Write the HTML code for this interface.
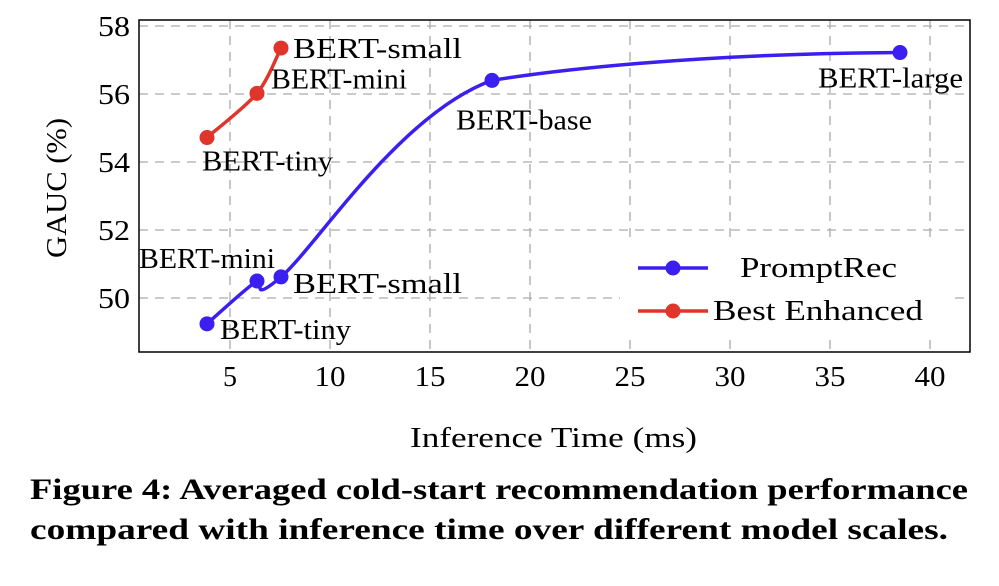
<!DOCTYPE html>
<html><head><meta charset="utf-8"><style>
body{margin:0;background:#fff;width:999px;height:581px;overflow:hidden}
svg{font-family:"Liberation Serif",serif}
</style></head><body>
<svg width="999" height="581">
<g id="grid"></g>
<rect x="139" y="20" width="831" height="332" fill="none" stroke="#000" stroke-width="1.5"/>
<g id="ticks"></g>
<g id="series"></g>
<text x="410" y="447" font-size="28" textLength="287" lengthAdjust="spacingAndGlyphs">Inference Time (ms)</text>
<text transform="translate(66,188) rotate(-90)" font-size="28" text-anchor="middle" textLength="140" lengthAdjust="spacingAndGlyphs">GAUC (%)</text>
<g>
<rect x="620" y="242" width="330" height="92" fill="#fff"/>
<line x1="638" y1="268" x2="708" y2="268" stroke="#3a1ff0" stroke-width="3.5"/>
<circle cx="673" cy="268" r="7.5" fill="#3a1ff0"/>
<text x="740" y="277" font-size="28" textLength="157" lengthAdjust="spacingAndGlyphs">PromptRec</text>
<line x1="638" y1="311" x2="708" y2="311" stroke="#e0352a" stroke-width="3.5"/>
<circle cx="673" cy="311" r="7.5" fill="#e0352a"/>
<text x="713" y="320" font-size="28" textLength="210" lengthAdjust="spacingAndGlyphs">Best Enhanced</text>
</g>
<text x="30" y="499" font-size="30" font-weight="bold" textLength="938" lengthAdjust="spacingAndGlyphs">Figure 4: Averaged cold-start recommendation performance</text>
<text x="30" y="539" font-size="30" font-weight="bold" textLength="918" lengthAdjust="spacingAndGlyphs">compared with inference time over different model scales.</text>
</svg>
<script>
const xTicks=[5,10,15,20,25,30,35,40];
const yTicks=[50,52,54,56,58];
const promptX=[3.85,6.35,7.55,18.1,38.5];
const promptY=[49.24,50.5,50.62,56.4,57.22];
const promptLabels=["BERT-tiny","BERT-mini","BERT-small","BERT-base","BERT-large"];
const bestX=[3.85,6.35,7.55];
const bestY=[54.72,56.02,57.35];
const bestLabels=["BERT-tiny","BERT-mini","BERT-small"];
const labelW={"BERT-tiny":131,"BERT-mini":136,"BERT-small":169,"BERT-base":136,"BERT-large":145};
const NS="http://www.w3.org/2000/svg";
const sx=v=>130+v*20, sy=v=>298-(v-50)*34;
function mk(t,a,p){const e=document.createElementNS(NS,t);for(const k in a)e.setAttribute(k,a[k]);p.appendChild(e);return e;}
const g=document.getElementById('grid'),tk=document.getElementById('ticks'),se=document.getElementById('series');
xTicks.forEach(v=>{
 const l=mk('line',{x1:sx(v),x2:sx(v),y1:20,y2:352,stroke:'#aaa','stroke-dasharray':'9,7','stroke-width':1.3},g);
 
 
 const t=mk('text',{x:sx(v),y:386,'font-size':28,'text-anchor':'middle'},tk);t.textContent=v;
 if(v>=10){t.setAttribute('textLength',31);t.setAttribute('lengthAdjust','spacingAndGlyphs');}
 
 
});
yTicks.forEach(v=>{
 const l=mk('line',{x1:139,x2:970,y1:sy(v),y2:sy(v),stroke:'#aaa','stroke-dasharray':'9,7','stroke-width':1.3},g);
 
 
 const t=mk('text',{x:98,y:sy(v)+10,'font-size':28,textLength:32,lengthAdjust:'spacingAndGlyphs'},tk);t.textContent=v;
 
 
});
function smooth(xs,ys){
 const p=xs.map((x,i)=>[sx(x),sy(ys[i])]);let d=`M${p[0][0]},${p[0][1]}`;const k=0.15;
 for(let i=0;i<p.length-1;i++){const p0=p[i-1]||p[i],p1=p[i],p2=p[i+1],p3=p[i+2]||p2;
  let c1=[p1[0]+(p2[0]-p0[0])*k,p1[1]+(p2[1]-p0[1])*k],c2=[p2[0]-(p3[0]-p1[0])*k,p2[1]-(p3[1]-p1[1])*k];
  if(i===p.length-2&&p.length>3){c1=[p1[0]+(p2[0]-p1[0])*0.15,p1[1]-10];c2=[p1[0]+(p2[0]-p1[0])*0.5,p2[1]+1];}
  d+=` C${c1[0]},${c1[1]} ${c2[0]},${c2[1]} ${p2[0]},${p2[1]}`;}
 return d;}
function series(xs,ys,col,name,labels,offs){
 const path=mk('path',{d:smooth(xs,ys),fill:'none',stroke:col,'stroke-width':3.5},se);
 
 
 xs.forEach((x,i)=>{
  const c=mk('circle',{cx:sx(x),cy:sy(ys[i]),r:7.5,fill:col},se);
  
  
  const t=mk('text',{x:sx(x)+offs[i][0],y:sy(ys[i])+offs[i][1],'font-size':28,'text-anchor':offs[i][2],textLength:labelW[labels[i]],lengthAdjust:'spacingAndGlyphs'},se);t.textContent=labels[i];
  
  
 });}
series(promptX,promptY,'#3a1ff0','promptrec',promptLabels,[[13,15,'start'],[-118,-13,'start'],[12,16,'start'],[-36,49,'start'],[63,35,'end']]);
series(bestX,bestY,'#e0352a','best-enhanced',bestLabels,[[-5,33,'start'],[14,-5,'start'],[12,10,'start']]);
</script>
</body></html>
